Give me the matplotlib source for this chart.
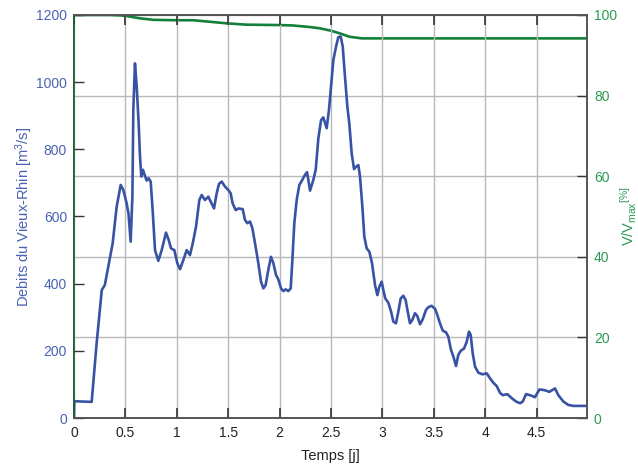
import numpy as np
import matplotlib.pyplot as plt
from matplotlib.ticker import FormatStrFormatter

plt.rcParams['font.family'] = ['Liberation Sans', 'DejaVu Sans']
plt.rcParams['mathtext.fontset'] = 'custom'
plt.rcParams['mathtext.rm'] = 'Liberation Sans'
plt.rcParams['mathtext.it'] = 'Liberation Sans'

# Debits du Vieux-Rhin [m3/s]
temps_q = [0, 0.003, 0.10, 0.172, 0.22, 0.27, 0.30, 0.334, 0.376, 0.415, 0.454, 0.48,
           0.512, 0.53, 0.551, 0.568, 0.577, 0.593, 0.61, 0.629, 0.642, 0.655, 0.671,
           0.687, 0.707, 0.726, 0.746, 0.765, 0.788, 0.82, 0.853, 0.895, 0.921, 0.944,
           0.976, 1.005, 1.031, 1.063, 1.096, 1.128, 1.155, 1.187, 1.219, 1.242, 1.274,
           1.307, 1.33, 1.362, 1.388, 1.41, 1.437, 1.469, 1.501, 1.524, 1.543, 1.573,
           1.599, 1.641, 1.663, 1.686, 1.712, 1.735, 1.761, 1.793, 1.819, 1.842, 1.864,
           1.89, 1.916, 1.939, 1.965, 1.987, 2.014, 2.036, 2.059, 2.085, 2.108, 2.124,
           2.143, 2.166, 2.192, 2.221, 2.247, 2.267, 2.296, 2.328, 2.351, 2.377, 2.403,
           2.425, 2.458, 2.48, 2.50, 2.523, 2.549, 2.571, 2.594, 2.614, 2.636, 2.659,
           2.678, 2.701, 2.724, 2.743, 2.766, 2.782, 2.805, 2.824, 2.847, 2.873, 2.899,
           2.928, 2.951, 2.97, 2.993, 3.009, 3.028, 3.058, 3.084, 3.106, 3.132, 3.155,
           3.178, 3.203, 3.226, 3.246, 3.268, 3.291, 3.317, 3.339, 3.366, 3.392, 3.424,
           3.447, 3.479, 3.512, 3.534, 3.56, 3.587, 3.619, 3.641, 3.667, 3.69, 3.716,
           3.738, 3.762, 3.794, 3.82, 3.842, 3.859, 3.878, 3.901, 3.933, 3.972, 4.015,
           4.047, 4.079, 4.112, 4.144, 4.17, 4.215, 4.258, 4.30, 4.339, 4.365, 4.397,
           4.436, 4.484, 4.527, 4.575, 4.624, 4.679, 4.711, 4.76, 4.808, 4.857, 4.99]
debit = [0, 50, 49, 48, 222, 381, 396, 451, 520, 629, 694, 679,
         639, 609, 525, 659, 917, 1056, 987, 877, 778, 719, 739,
         724, 707, 714, 704, 619, 500, 468, 500, 552, 530, 505,
         500, 461, 443, 470, 500, 485, 520, 570, 649, 664, 649,
         659, 644, 624, 669, 697, 704, 689, 679, 669, 639, 619,
         624, 622, 590, 580, 585, 565, 520, 461, 406, 386, 396,
         441, 480, 461, 426, 413, 386, 378, 383, 378, 386, 470,
         580, 649, 694, 709, 724, 732, 677, 709, 739, 833, 887,
         895, 863, 917, 987, 1066, 1106, 1134, 1136, 1106, 1016, 927,
         877, 788, 741, 748, 753, 719, 629, 540, 505, 495, 461,
         396, 366, 391, 406, 381, 356, 343, 317, 287, 282, 317,
         356, 364, 351, 317, 282, 292, 312, 304, 279, 294, 322,
         330, 334, 325, 307, 282, 260, 255, 242, 203, 183, 155,
         188, 200, 207, 227, 257, 247, 193, 153, 135, 130, 133,
         118, 105, 95, 75, 68, 71, 59, 49, 44, 49, 71,
         68, 62, 85, 83, 78, 88, 68, 49, 39, 36, 36]

# V/Vmax [%]
temps_v = [0, 0.35, 0.45, 0.5, 0.635, 0.77, 1.0, 1.16, 1.5, 1.68, 2.0, 2.13,
           2.3, 2.39, 2.5, 2.59, 2.68, 2.8, 4.99]
volume = [100, 100, 99.9, 99.8, 99.2, 98.8, 98.7, 98.7, 97.9, 97.6, 97.5, 97.4,
          97.0, 96.7, 96.1, 95.4, 94.6, 94.2, 94.2]

x_ticks = [0, 0.5, 1, 1.5, 2, 2.5, 3, 3.5, 4, 4.5]

BLUE = '#3853a4'
BLUE_TXT = '#4a62b2'
GREEN = '#13803a'
GREEN_TXT = '#2c9a52'

fig = plt.figure(figsize=(6.38, 4.66), dpi=100)
ax1 = fig.add_axes([74/638, 48/466, 513/638, 403/466])
ax2 = ax1.twinx()
ax1.set_zorder(ax2.get_zorder() + 1)
ax1.patch.set_visible(False)

ax2.plot(temps_v, volume, color=GREEN, lw=1.9, solid_capstyle='butt')
ax1.plot(temps_q, debit, color=BLUE, lw=1.9, solid_joinstyle='round')

ax1.set_xlim(0, 4.99)
ax1.set_ylim(0, 1200)
ax2.set_ylim(0, 100)
ax1.set_xticks(x_ticks)
ax1.xaxis.set_major_formatter(FormatStrFormatter('%g'))
ax1.set_yticks(np.arange(0, 1201, 200))
ax2.set_yticks(np.arange(0, 101, 20))

ax1.grid(axis='x', color='#b8b8b8', lw=1)
ax2.grid(axis='y', color='#b8b8b8', lw=1)
ax1.grid(axis='y', visible=False)
ax2.grid(axis='x', visible=False)

ax1.tick_params(axis='x', direction='in', length=7, width=1.2, color='#333333',
                top=True, labelsize=10, labelcolor='#222222', pad=6)
ax1.tick_params(axis='y', direction='in', length=7, width=1, color='#333333',
                labelsize=10, labelcolor=BLUE_TXT, pad=5)
ax2.tick_params(axis='y', direction='in', length=7, width=1, color='#333333',
                labelsize=10, labelcolor=GREEN_TXT, pad=5)

for ax in (ax1, ax2):
    for s in ax.spines.values():
        s.set_color('#555555')
        s.set_linewidth(1.2)
ax1.spines['left'].set_color('#1d5e33')
ax2.spines['left'].set_color('#1d5e33')

ax1.set_xlabel('Temps [j]', fontsize=10.5, color='#222222', labelpad=6)
ax1.set_ylabel('Debits du Vieux-Rhin [m$^3$/s]', fontsize=10.5, color=BLUE_TXT, labelpad=1)
ax2.set_ylabel('V/V$_{\\mathrm{max}}$$^{[\\%]}$', fontsize=10.5, color=GREEN_TXT,
               rotation=90, labelpad=1)

fig.savefig('out.png', dpi=100)
